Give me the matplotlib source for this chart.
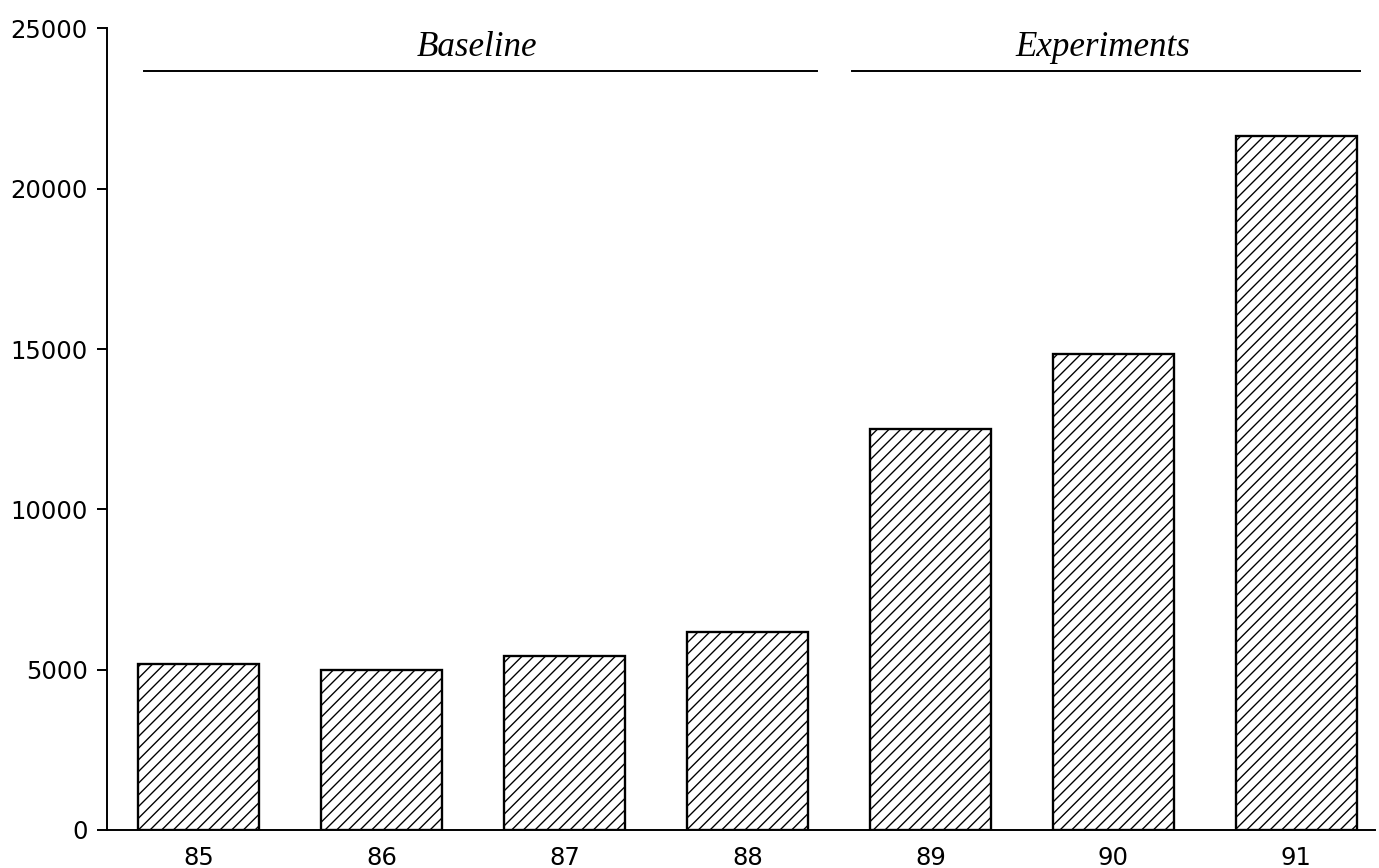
import matplotlib
matplotlib.use("Agg")
import matplotlib.pyplot as plt
import numpy as np

# data
years = ["85", "86", "87", "88", "89", "90", "91"]
values = [5180, 4990, 5440, 6170, 12520, 14860, 21650]
groups = ["Baseline", "Experiments"]
group_lines = [(-0.30, 3.38), (3.57, 6.35)]  # extent of each group rule, in bar units
yticks = [0, 5000, 10000, 15000, 20000, 25000]

plt.rcParams["hatch.linewidth"] = 0.7

dpi = 140
fig = plt.figure(figsize=(1379 / dpi, 868 / dpi), dpi=dpi)
ax = fig.add_axes([0.0776, 0.0438, 0.9195, 0.9234])

x = np.arange(len(years))
ax.bar(x, values, width=0.66, color="white", edgecolor="black",
       linewidth=1.2, hatch="////")

ax.set_xlim(-0.50, 6.43)
ax.set_ylim(0, 25000)
ax.set_yticks(yticks)
ax.set_yticklabels([str(t) for t in yticks])
ax.set_xticks(x)
ax.set_xticklabels(years)

for side in ["top", "right"]:
    ax.spines[side].set_visible(False)
for side in ["left", "bottom"]:
    ax.spines[side].set_linewidth(1.0)

ax.tick_params(axis="y", length=5, width=1.0, pad=5, labelsize=12.5)
ax.tick_params(axis="x", length=0, pad=8, labelsize=12.5)

# group rules with italic labels above the bars
for name, (x0, x1) in zip(groups, group_lines):
    ax.plot([x0, x1], [23680, 23680], color="black", lw=1.0, clip_on=False)
    ax.text((x0 + x1) / 2 - 0.02, 24150, name, ha="center", va="baseline",
            family="Liberation Serif", style="italic", fontsize=18)

fig.savefig("out.png", dpi=dpi)
